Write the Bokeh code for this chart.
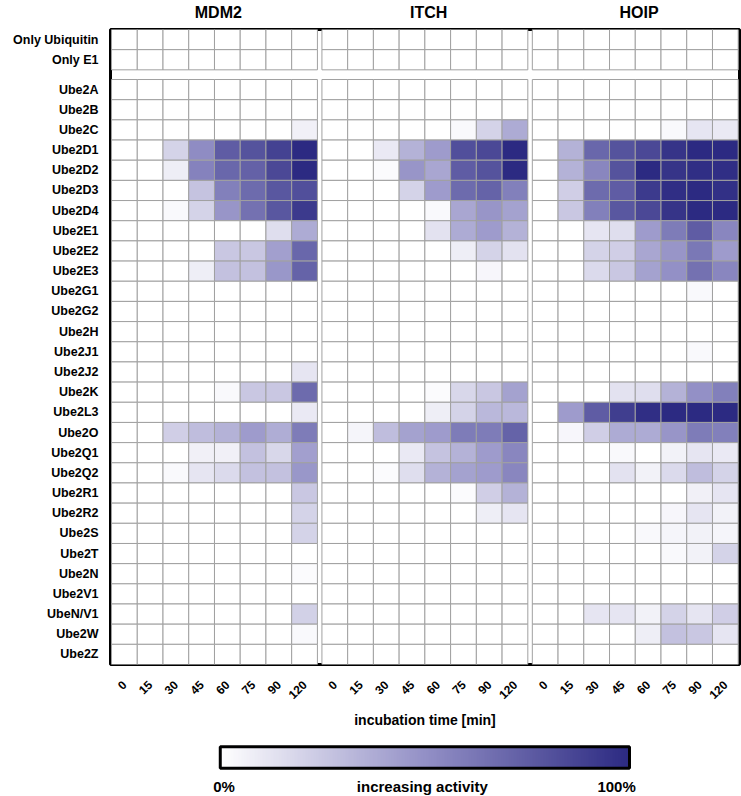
import numpy as np
from bokeh.plotting import figure
from bokeh.models import (ColumnDataSource, LinearColorMapper, FixedTicker, Range1d,
                          LinearAxis)
from bokeh.transform import transform
from bokeh.layouts import column
from bokeh.embed import file_html
from bokeh.resources import INLINE

# ---------------- data ----------------
times = ["0", "15", "30", "45", "60", "75", "90", "120"]
e3_ligases = ["MDM2", "ITCH", "HOIP"]
control_rows = ["Only Ubiquitin", "Only E1"]
e2_rows = ["Ube2A", "Ube2B", "Ube2C", "Ube2D1", "Ube2D2", "Ube2D3", "Ube2D4",
           "Ube2E1", "Ube2E2", "Ube2E3", "Ube2G1", "Ube2G2", "Ube2H", "Ube2J1",
           "Ube2J2", "Ube2K", "Ube2L3", "Ube2O", "Ube2Q1", "Ube2Q2", "Ube2R1",
           "Ube2R2", "Ube2S", "Ube2T", "Ube2N", "Ube2V1", "UbeN/V1", "Ube2W", "Ube2Z"]

Z = [0, 0, 0, 0, 0, 0, 0, 0]

mdm2_activity = [
    Z, Z,                                   # controls
    Z, Z,                                   # A, B
    [0, 0, 0, 0, 0, 0, 0, 0.07],            # C
    [0, 0, 0.20, 0.52, 0.75, 0.80, 0.88, 1.00],  # D1
    [0, 0, 0.08, 0.57, 0.70, 0.73, 0.85, 1.00],  # D2
    [0, 0, 0, 0.27, 0.58, 0.68, 0.78, 0.82],     # D3
    [0, 0, 0.03, 0.20, 0.48, 0.65, 0.78, 0.92],  # D4
    [0, 0, 0, 0, 0, 0, 0.15, 0.38],              # E1
    [0, 0, 0, 0, 0.25, 0.25, 0.43, 0.70],        # E2
    [0, 0, 0, 0.08, 0.28, 0.28, 0.47, 0.72],     # E3
    Z, Z, Z, Z,                                  # G1, G2, H, J1
    [0, 0, 0, 0, 0, 0, 0, 0.12],                 # J2
    [0, 0, 0, 0, 0.03, 0.25, 0.25, 0.68],        # K
    [0, 0, 0, 0, 0, 0, 0, 0.10],                 # L3
    [0, 0, 0.22, 0.30, 0.35, 0.45, 0.37, 0.60],  # O
    [0, 0, 0, 0.07, 0.07, 0.28, 0.18, 0.43],     # Q1
    [0, 0, 0.03, 0.12, 0.17, 0.28, 0.28, 0.47],  # Q2
    [0, 0, 0, 0, 0, 0, 0, 0.25],                 # R1
    [0, 0, 0, 0, 0, 0, 0, 0.20],                 # R2
    [0, 0, 0, 0, 0, 0, 0, 0.20],                 # S
    Z,                                           # T
    [0, 0, 0, 0, 0, 0, 0, 0.02],                 # N
    Z,                                           # V1
    [0, 0, 0, 0, 0, 0, 0, 0.21],                 # N/V1
    [0, 0, 0, 0, 0, 0, 0, 0.03],                 # W
    Z,                                           # Z
]

itch_activity = [
    Z, Z,
    Z, Z,
    [0, 0, 0, 0, 0, 0.03, 0.20, 0.38],           # C
    [0, 0, 0.10, 0.35, 0.45, 0.82, 0.85, 1.00],  # D1
    [0, 0, 0.02, 0.48, 0.40, 0.75, 0.80, 1.00],  # D2
    [0, 0, 0, 0.20, 0.45, 0.68, 0.72, 0.58],     # D3
    [0, 0, 0, 0, 0.03, 0.40, 0.48, 0.42],        # D4
    [0, 0, 0, 0, 0.13, 0.38, 0.45, 0.35],        # E1
    [0, 0, 0, 0, 0, 0.08, 0.20, 0.13],           # E2
    [0, 0, 0, 0, 0, 0, 0.04, 0],                 # E3
    Z, Z, Z, Z, Z,                               # G1, G2, H, J1, J2
    [0, 0, 0, 0, 0.02, 0.18, 0.25, 0.42],        # K
    [0, 0, 0, 0, 0.08, 0.20, 0.32, 0.32],        # L3
    [0, 0.05, 0.30, 0.42, 0.45, 0.60, 0.60, 0.72],  # O
    [0, 0, 0, 0.10, 0.27, 0.35, 0.45, 0.55],     # Q1
    [0, 0, 0.02, 0.15, 0.35, 0.42, 0.45, 0.55],  # Q2
    [0, 0, 0, 0, 0, 0.02, 0.22, 0.35],           # R1
    [0, 0, 0, 0, 0, 0, 0.08, 0.12],              # R2
    Z, Z, Z, Z, Z, Z, Z,                         # S, T, N, V1, N/V1, W, Z
]

hoip_activity = [
    Z, Z,
    Z, Z,
    [0, 0, 0, 0, 0, 0.03, 0.12, 0.10],           # C
    [0, 0.35, 0.70, 0.80, 0.85, 0.95, 1.00, 1.00],  # D1
    [0, 0.35, 0.55, 0.80, 1.00, 0.95, 0.98, 0.98],  # D2
    [0, 0.22, 0.68, 0.75, 0.92, 0.98, 1.00, 0.97],  # D3
    [0, 0.25, 0.58, 0.78, 0.85, 0.95, 1.00, 1.00],  # D4
    [0, 0, 0.12, 0.15, 0.45, 0.60, 0.75, 0.55],  # E1
    [0, 0, 0.20, 0.22, 0.40, 0.48, 0.62, 0.45],  # E2
    [0, 0, 0.17, 0.25, 0.42, 0.50, 0.65, 0.55],  # E3
    [0, 0, 0, 0, 0, 0, 0.03, 0],                 # G1
    Z, Z,                                        # G2, H
    [0, 0, 0, 0, 0, 0, 0.03, 0],                 # J1
    Z,                                           # J2
    [0, 0, 0, 0.13, 0.15, 0.35, 0.50, 0.58],     # K
    [0, 0.45, 0.75, 0.90, 0.98, 1.00, 1.00, 1.00],  # L3
    [0, 0.04, 0.22, 0.38, 0.38, 0.48, 0.60, 0.58],  # O
    [0, 0, 0, 0.03, 0, 0.06, 0.12, 0.10],        # Q1
    [0, 0, 0, 0.13, 0.06, 0.17, 0.30, 0.20],     # Q2
    [0, 0, 0, 0, 0, 0, 0.07, 0.12],              # R1
    [0, 0, 0, 0, 0, 0.04, 0.12, 0.06],           # R2
    [0, 0, 0, 0, 0.03, 0.05, 0.06, 0.05],        # S
    [0, 0, 0, 0, 0, 0.03, 0.06, 0.20],           # T
    Z, Z,                                        # N, V1
    [0, 0, 0.12, 0.12, 0.06, 0.20, 0.12, 0.22],  # N/V1
    [0, 0, 0, 0, 0.08, 0.28, 0.25, 0.12],        # W
    Z,                                           # Z
]

legend_labels = ["0%", "increasing activity", "100%"]

# ---------------- layout constants ----------------
GAP_X = 0.175     # gap between ligase panels (in cell units)
GAP_Y = 0.48      # gap between control rows and E2 rows
BAR_W = 15.9      # colour bar width (cell units)
FONT = "Liberation Sans"

all_rows = control_rows + e2_rows
panels = [mdm2_activity, itch_activity, hoip_activity]


def row_center(i):
    return i + 0.5 if i < len(control_rows) else i + GAP_Y + 0.5


def col_center(p, c):
    return p * (len(times) + GAP_X) + c + 0.5


xs, ys, vs = [], [], []
for p, mat in enumerate(panels):
    for r, row in enumerate(mat):
        for c, v in enumerate(row):
            xs.append(col_center(p, c))
            ys.append(row_center(r))
            vs.append(v)
src = ColumnDataSource(dict(x=xs, y=ys, v=vs))

# palette white -> lavender -> dark indigo
stops = [(0.0, (255, 255, 255)), (0.5, (147, 144, 198)), (1.0, (44, 42, 130))]
palette = []
for t in np.linspace(0, 1, 256):
    for (t0, c0), (t1, c1) in zip(stops[:-1], stops[1:]):
        if t0 <= t <= t1:
            f = (t - t0) / (t1 - t0)
            rgb = [int(round(a + (b - a) * f)) for a, b in zip(c0, c1)]
            palette.append("#%02x%02x%02x" % tuple(rgb))
            break
mapper = LinearColorMapper(palette=palette, low=0, high=1)

x_end = len(e3_ligases) * len(times) + (len(e3_ligases) - 1) * GAP_X
y_end = len(all_rows) + GAP_Y


def style_axis(ax, size):
    ax.minor_tick_line_color = None
    ax.major_tick_line_color = None
    ax.major_tick_out = 0
    ax.major_tick_in = 0
    ax.axis_line_color = None
    ax.major_label_text_font = FONT
    ax.major_label_text_font_style = "bold"
    ax.major_label_text_font_size = size
    ax.major_label_text_color = "black"


p = figure(frame_width=629, frame_height=635,
           x_range=Range1d(-0.04, x_end + 0.05),
           y_range=Range1d(y_end, 0),
           min_border_left=110, min_border_right=2,
           min_border_top=29, min_border_bottom=76,
           output_backend="svg", toolbar_location=None)
p.xgrid.visible = False
p.ygrid.visible = False
p.outline_line_color = "black"
p.outline_line_width = 3
p.background_fill_color = "white"
p.border_fill_color = "white"

p.rect(x="x", y="y", width=1, height=1, source=src,
       fill_color=transform("v", mapper), line_color="#a0a0a0", line_width=1)

# y axis: row labels
yt = [round(row_center(i), 3) for i in range(len(all_rows))]
p.yaxis.ticker = FixedTicker(ticks=yt)
p.yaxis.major_label_overrides = {t: n for t, n in zip(yt, all_rows)}
style_axis(p.yaxis[0], "12.5px")
p.yaxis.major_label_standoff = 12

# x axis: incubation times
xt, xl = [], []
for pi in range(len(e3_ligases)):
    for c, t in enumerate(times):
        xt.append(round(col_center(pi, c), 3))
        xl.append(t)
p.xaxis.ticker = FixedTicker(ticks=xt)
p.xaxis.major_label_overrides = {t: l for t, l in zip(xt, xl)}
p.xaxis.major_label_orientation = np.pi / 4
style_axis(p.xaxis[0], "12px")
p.xaxis.major_label_standoff = 18
p.xaxis.axis_label = "incubation time [min]"
p.xaxis.axis_label_text_font = FONT
p.xaxis.axis_label_text_font_style = "bold"
p.xaxis.axis_label_text_font_size = "14px"
p.xaxis.axis_label_text_color = "black"
p.xaxis.axis_label_standoff = 6

# panel titles as a top axis
tt = [round(col_center(pi, 0) - 0.5 + len(times) / 2 + 0.15, 3) for pi in range(len(e3_ligases))]
top_axis = LinearAxis(ticker=FixedTicker(ticks=tt),
                      major_label_overrides={t: n for t, n in zip(tt, e3_ligases)})
style_axis(top_axis, "16px")
top_axis.major_label_standoff = 9
p.add_layout(top_axis, "above")

# ---------------- colour bar ----------------
bar_left = x_end / 2 - BAR_W / 2
p2 = figure(frame_width=629, frame_height=26,
            x_range=Range1d(-0.04, x_end + 0.05), y_range=Range1d(-0.1, 1.1),
            min_border_left=110, min_border_right=2,
            min_border_top=4, min_border_bottom=25,
            output_backend="svg", toolbar_location=None)
p2.image(image=[np.linspace(0, 1, 256).reshape(1, 256)], x=bar_left, y=0,
         dw=BAR_W, dh=1, color_mapper=mapper)
p2.rect(x=x_end / 2, y=0.5, width=BAR_W, height=1, fill_color=None,
        line_color="black", line_width=3)
p2.xgrid.visible = False
p2.ygrid.visible = False
p2.yaxis.visible = False
p2.outline_line_color = None
lt = [round(bar_left + 0.15, 3), round(x_end / 2 - 0.1, 3), round(bar_left + BAR_W - 0.5, 3)]
p2.xaxis.ticker = FixedTicker(ticks=lt)
p2.xaxis.major_label_overrides = {t: l for t, l in zip(lt, legend_labels)}
style_axis(p2.xaxis[0], "15px")
p2.xaxis.major_label_standoff = 7

layout = column(p, p2)
open("out.html", "w").write(file_html(layout, INLINE))
